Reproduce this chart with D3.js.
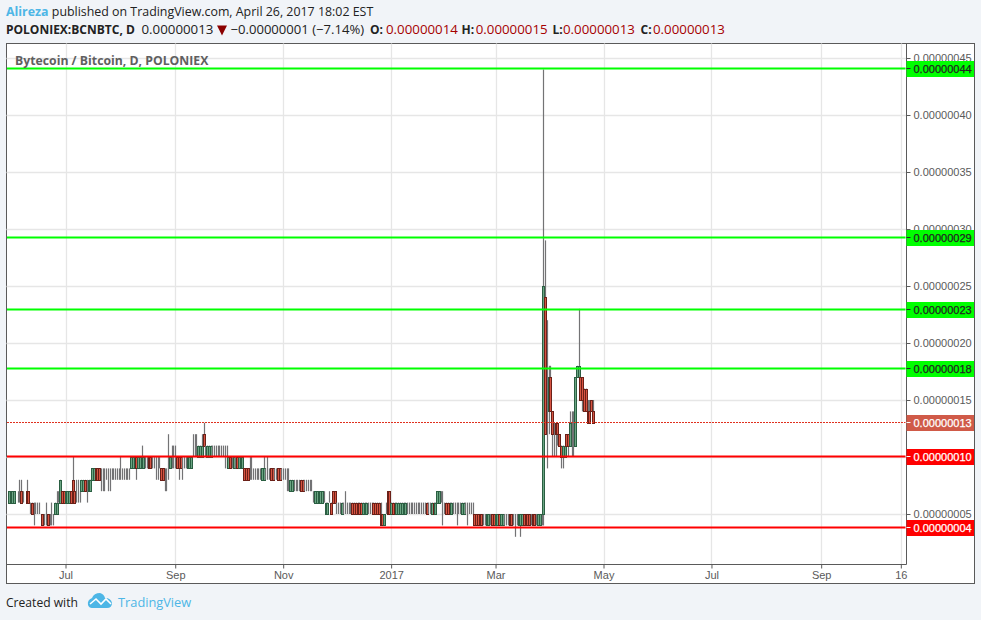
<!DOCTYPE html>
<html>
<head>
<meta charset="utf-8">
<title>BCNBTC</title>
<script src="https://cdn.jsdelivr.net/npm/d3@7"></script>
<style>
  html, body { margin: 0; padding: 0; background: #f1f4f8; }
  svg { display: block; }
  text { font-family: "Open Sans", sans-serif; }
  .scale text { font-family: "Liberation Sans", Arial, sans-serif; font-size: 11px; }
</style>
</head>
<body>
<svg id="chart" width="981" height="620"></svg>
<script>
// prices are in satoshi (1e-8 BTC), one entry per day from 29 May 2016
const firstDay = new Date(Date.UTC(2016, 4, 29));

const opens = [
  6,6,6,6,6,6,6,6,7,6,6,7,7,6,6,5,5,5,5,5,
  5,4,5,5,4,5,5,5,5,6,6,7,7,6,6,6,7,8,7,7,
  7,7,7,7,8,7,7,7,8,8,9,9,9,8,8,8,8,8,8,8,
  8,8,8,8,8,8,8,8,8,8,9,9,9,10,9,9,9,9,9,9,
  10,10,9,9,9,9,9,9,9,8,8,9,9,9,9,9,10,10,10,9,
  9,9,9,9,9,10,10,10,10,10,10,12,11,10,10,10,10,10,10,10,
  10,10,10,10,10,9,10,9,9,9,10,9,9,9,9,9,9,8,8,8,
  8,8,8,8,8,8,8,8,8,9,9,8,8,9,9,8,8,8,8,8,
  7,7,7,7,7,7,8,8,7,8,8,8,8,7,6,6,6,6,6,6,
  5,5,6,6,7,7,6,6,5,5,5,5,5,5,5,6,6,6,6,6,
  6,5,5,5,5,5,5,6,6,6,6,5,5,4,5,7,7,5,6,6,
  5,5,5,5,5,5,5,5,5,5,5,5,5,5,5,5,5,6,5,5,
  5,6,5,6,6,6,6,5,6,6,6,5,5,5,6,5,5,5,5,5,
  4,5,5,5,5,5,5,5,5,4,4,4,4,4,5,5,4,4,5,4,
  4,4,4,4,5,5,4,4,4,4,4,4,5,5,5,5,4,5,5,4,
  4,4,5,5,24,13,14,17,14,12,13,13,12,11,10,10,12,12,11,12,12,11,17,17,17,17,16,16,14,14,15,14
];
const highs = [
  6,7,7,7,7,6,7,8,8,7,6,8,7,6,6,6,6,6,6,5,
  5,5,6,5,5,6,5,6,7,7,8,7,7,7,7,7,7,10,7,8,
  8,7,8,8,8,8,8,8,9,9,9,9,9,9,9,9,9,9,9,9,
  9,9,9,9,10,9,9,9,9,9,10,10,10,10,10,10,11,10,10,10,
  10,10,10,10,10,10,10,9,9,9,9,12,10,11,11,11,10,10,10,10,
  10,10,10,10,10,12,12,12,11,11,12,13,11,11,11,11,11,11,11,11,
  11,11,11,11,11,10,10,10,10,10,10,10,10,10,9,9,9,10,10,9,
  9,9,9,9,9,10,9,10,9,9,9,9,9,9,9,9,9,9,9,9,
  8,8,8,8,8,8,8,8,8,8,8,8,8,7,7,7,7,7,7,7,
  6,6,7,6,7,7,6,6,6,6,6,7,6,6,6,6,6,6,6,6,
  6,6,6,6,6,6,6,6,6,6,6,6,5,5,6,7,7,6,6,6,
  6,6,6,6,6,6,6,6,6,6,6,6,6,6,6,6,6,6,6,6,
  6,6,6,7,7,7,7,6,6,6,6,6,6,6,6,6,6,6,6,6,
  6,6,6,6,5,5,5,5,5,5,5,5,5,5,5,5,5,5,5,5,
  5,5,5,5,5,5,5,5,5,5,5,5,5,5,5,5,5,5,5,5,
  5,5,5,44,29,22,18,18,14,13,13,13,12,11,11,11,12,12,14,14,14,17,18,23,17,17,16,16,15,15,15,15
];
const lows = [
  6,6,6,6,6,6,6,6,6,6,6,6,6,5,5,4,5,5,5,5,
  4,4,4,4,4,4,4,5,5,6,6,6,6,6,6,6,6,6,6,6,
  6,6,7,7,7,6,7,7,8,8,8,8,8,7,7,7,8,7,7,8,
  8,8,8,8,8,8,8,8,8,8,9,9,9,8,9,9,9,9,9,9,
  9,9,9,9,8,8,9,8,8,7,7,8,9,9,9,9,9,8,9,8,
  9,9,9,9,9,10,10,10,10,10,10,11,10,10,10,10,10,10,10,10,
  10,10,10,9,9,9,9,9,9,9,9,9,9,9,8,8,8,8,8,8,
  8,8,8,8,8,8,8,8,8,8,8,8,8,8,8,8,8,8,7,7,
  7,7,7,7,7,7,7,7,7,7,7,7,7,6,6,6,6,6,6,6,
  5,5,6,5,6,6,5,5,5,5,5,5,5,5,5,5,5,5,5,5,
  5,5,5,5,5,5,5,5,5,5,5,4,4,4,5,5,5,5,5,5,
  5,5,5,5,5,5,5,5,5,5,5,5,5,5,5,5,5,5,5,5,
  5,5,5,6,6,6,4,5,5,5,5,5,5,5,4,5,5,5,5,5,
  4,5,5,5,4,4,4,4,4,4,4,4,4,4,4,4,4,4,4,4,
  4,4,4,4,4,4,4,3,4,4,3,4,4,4,4,4,4,4,4,4,
  4,4,4,4,12,9,12,14,10,10,10,11,11,9,9,10,11,10,11,10,10,11,17,17,15,14,14,14,13,13,14,13
];
const closes = [
  6,7,7,7,7,6,6,6,6,6,6,6,6,6,5,5,5,5,5,5,
  4,4,5,4,4,5,5,6,6,6,8,6,6,7,7,7,6,6,6,7,
  7,7,8,8,7,7,8,8,9,9,8,8,8,8,8,8,8,8,8,8,
  8,8,8,8,8,8,8,8,8,8,10,10,10,9,10,10,10,10,9,9,
  9,9,9,9,9,9,9,8,8,8,8,9,10,9,9,9,9,9,9,9,
  9,9,10,10,10,10,10,10,11,11,11,11,11,11,11,11,10,10,10,10,
  10,10,10,10,10,10,9,9,10,9,9,10,10,10,8,8,8,8,8,8,
  8,8,8,8,9,9,8,8,8,8,8,8,8,8,8,8,8,8,8,8,
  8,8,7,7,7,7,7,7,7,8,8,8,8,7,7,7,7,7,7,6,
  6,6,6,5,6,6,6,6,5,6,5,5,5,5,5,5,5,5,5,5,
  5,6,6,6,5,5,5,5,5,5,5,4,4,5,5,5,5,6,5,5,
  6,6,6,6,6,6,5,5,5,5,5,5,5,5,5,5,5,5,5,5,
  6,5,6,7,7,6,6,5,5,5,5,6,5,5,6,5,5,6,6,5,
  4,5,5,5,4,4,4,4,4,4,4,5,5,4,4,4,5,5,4,5,
  5,4,4,4,4,4,4,4,4,5,5,5,4,4,4,4,4,4,4,4,
  5,5,5,25,12,13,17,14,12,12,12,12,11,10,11,11,11,11,13,12,12,17,18,18,15,15,14,14,13,13,14,13
];

const supportLevels = [10.06, 3.83];
const resistLevels = [44.08, 29.3, 22.98, 17.8];
const lastPrice = 13.05;
const priceTicks = [5, 10, 15, 20, 25, 30, 35, 40, 45];
const timeTicks = [
  [new Date(Date.UTC(2016, 6, 1)), "Jul"], [new Date(Date.UTC(2016, 8, 1)), "Sep"],
  [new Date(Date.UTC(2016, 10, 1)), "Nov"], [new Date(Date.UTC(2017, 0, 1)), "2017"],
  [new Date(Date.UTC(2017, 2, 1)), "Mar"], [new Date(Date.UTC(2017, 4, 1)), "May"],
  [new Date(Date.UTC(2017, 6, 1)), "Jul"], [new Date(Date.UTC(2017, 8, 1)), "Sep"],
  [new Date(Date.UTC(2017, 9, 16)), "16"]
];

const plotLeft = 6.5, plotRight = 906.5, plotTop = 43.5, plotBottom = 564.5, outerRight = 974.5, outerBottom = 583.5;
const upFill = "#6ba583", upLine = "#2a5f42", downFill = "#d75442", downLine = "#6b2018", wickColor = "#737375";

const x = d3.scaleUtc()
  .domain([timeTicks[0][0], timeTicks[5][0]])
  .range([65.5, 603.5]);
const y = d3.scaleLinear().domain([5, 45]).range([514, 58]);
const priceText = v => (Math.round(v) * 1e-8).toFixed(8);
const crisp = v => Math.round(v) + 0.5;

const candles = opens.map((o, i) => ({
  day: d3.utcDay.offset(firstDay, i), o: o, h: highs[i], l: lows[i], c: closes[i]
}));

const svg = d3.select("#chart");

svg.append("rect")
  .attr("x", plotLeft).attr("y", plotTop)
  .attr("width", outerRight - plotLeft).attr("height", outerBottom - plotTop)
  .attr("fill", "#fff").attr("stroke", "#5a5a5a");

// grid
const grid = svg.append("g").attr("stroke", "#e6e6e6").attr("stroke-width", 1.3);
grid.selectAll(".gx").data(timeTicks).join("line")
  .attr("x1", d => crisp(x(d[0]))).attr("x2", d => crisp(x(d[0])))
  .attr("y1", plotTop).attr("y2", plotBottom);
grid.selectAll(".gy").data(priceTicks).join("line")
  .attr("y1", d => crisp(y(d))).attr("y2", d => crisp(y(d)))
  .attr("x1", plotLeft).attr("x2", plotRight);

// candles
const candle = svg.append("g").selectAll("g").data(candles).join("g");
candle.append("line")
  .attr("x1", d => crisp(x(d.day))).attr("x2", d => crisp(x(d.day)))
  .attr("y1", d => y(d.h)).attr("y2", d => y(d.l))
  .attr("stroke", wickColor).attr("stroke-width", 1.2);
candle.append("rect")
  .attr("x", d => crisp(x(d.day)) - 1)
  .attr("width", 2)
  .attr("y", d => crisp(y(Math.max(d.o, d.c))))
  .attr("height", d => Math.abs(crisp(y(d.o)) - crisp(y(d.c))))
  .attr("fill", d => d.c >= d.o ? upFill : downFill)
  .attr("stroke", d => d.c >= d.o ? upLine : downLine);

// drawn levels
const levels = svg.append("g").attr("stroke-width", 2);
levels.selectAll(".res").data(resistLevels).join("line")
  .attr("x1", plotLeft + 0.5).attr("x2", plotRight - 1)
  .attr("y1", d => crisp(y(d))).attr("y2", d => crisp(y(d)))
  .attr("stroke", "#00ff00");
levels.selectAll(".sup").data(supportLevels).join("line")
  .attr("x1", plotLeft + 0.5).attr("x2", plotRight - 1)
  .attr("y1", d => crisp(y(d))).attr("y2", d => crisp(y(d)))
  .attr("stroke", "#ff0000");
svg.append("line")
  .attr("x1", plotLeft + 0.5).attr("x2", plotRight - 1)
  .attr("y1", crisp(y(lastPrice))).attr("y2", crisp(y(lastPrice)))
  .attr("stroke", "#e0301e").attr("stroke-dasharray", "2,1");

// axes frame
svg.append("line").attr("x1", plotRight).attr("x2", plotRight).attr("y1", plotTop).attr("y2", plotBottom).attr("stroke", "#5a5a5a");
svg.append("line").attr("x1", plotLeft).attr("x2", plotRight).attr("y1", plotBottom).attr("y2", plotBottom).attr("stroke", "#5a5a5a");

const yAxis = svg.append("g").attr("class", "scale")
  .attr("transform", "translate(" + plotRight + ",0)")
  .call(d3.axisRight(y).tickValues(priceTicks).tickSize(4).tickPadding(3).tickFormat(priceText));
yAxis.select(".domain").remove();
yAxis.selectAll("line").attr("stroke", "#5a5a5a");
yAxis.selectAll("text").attr("fill", "#5a5a5a");

const xAxis = svg.append("g").attr("class", "scale")
  .attr("transform", "translate(0," + plotBottom + ")")
  .call(d3.axisBottom(x).tickValues(timeTicks.map(d => d[0])).tickSize(4).tickPadding(3)
    .tickFormat((d, i) => timeTicks[i][1]));
xAxis.select(".domain").remove();
xAxis.selectAll("line").attr("stroke", "#5a5a5a");
xAxis.selectAll("text").attr("fill", "#5a5a5a");

// price tags
function addTag(v, fill, ink) {
  const g = svg.append("g").attr("class", "scale");
  g.append("rect")
    .attr("x", plotRight).attr("y", Math.round(y(v)) - 7)
    .attr("width", outerRight - plotRight - 0.5).attr("height", 16)
    .attr("fill", fill);
  g.append("line")
    .attr("x1", plotRight).attr("x2", plotRight + 4)
    .attr("y1", crisp(y(v))).attr("y2", crisp(y(v)))
    .attr("stroke", ink);
  g.append("text")
    .attr("x", plotRight + 7).attr("y", Math.round(y(v)) + 5)
    .attr("fill", ink)
    .attr("stroke", ink).attr("stroke-width", 0.25)
    .text(priceText(v));
}
resistLevels.forEach(v => addTag(v, "#00ff00", "#222"));
addTag(lastPrice, "#d05a48", "#fff");
supportLevels.forEach(v => addTag(v, "#ff0000", "#fff"));

// header
svg.append("text").attr("x", 15).attr("y", 65)
  .attr("font-size", 12.25).attr("font-weight", 700).attr("fill", "#5f5f5f")
  .text("Bytecoin / Bitcoin, D, POLONIEX");

const line1 = svg.append("text").attr("x", 6).attr("y", 16).attr("font-size", 12.4).attr("fill", "#222");
line1.append("tspan").attr("font-weight", 700).attr("fill", "#4db6e6").text("Alireza");
line1.append("tspan").text(" published on TradingView.com, April 26, 2017 18:02 EST");

svg.append("text").attr("x", 6).attr("y", 34).attr("font-size", 12).attr("font-weight", 700).attr("fill", "#222")
  .text("POLONIEX:BCNBTC, D");
svg.append("text").attr("x", 141.5).attr("y", 34).attr("font-size", 13.3).attr("fill", "#222")
  .text("0.00000013");
svg.append("path").attr("d", "M217 25.5h10l-5 10z").attr("fill", "#8b0000");
svg.append("text").attr("x", 230.5).attr("y", 34).attr("font-size", 13.1).attr("fill", "#222")
  .text("\u22120.00000001 (\u22127.14%)");

const ohlcNames = ["O:", "H:", "L:", "C:"];
const ohlcValues = ["0.00000014", "0.00000015", "0.00000013", "0.00000013"];
ohlcNames.forEach((name, i) => {
  svg.append("text").attr("x", [370, 461.5, 552.5, 640.5][i]).attr("y", 34)
    .attr("font-size", 12).attr("font-weight", 700).attr("fill", "#222").text(name);
  svg.append("text").attr("x", [386, 475.7, 563, 653][i]).attr("y", 34)
    .attr("font-size", 13.3).attr("fill", "#a60000").text(ohlcValues[i]);
});

// footer
svg.append("text").attr("x", 6).attr("y", 607).attr("font-size", 12.1).attr("fill", "#222").text("Created with");
svg.append("path")
  .attr("d", "M88 605q-1-5 4-7q2-5 8-5q4 1 5 5q6 0 7 5q0 5-5 5h-15q-3 0-4-3z")
  .attr("fill", "#4db6e6");
svg.append("path")
  .attr("d", "M90 604l6-5l5 5l5-5l5 5")
  .attr("fill", "none").attr("stroke", "#fff").attr("stroke-width", 1.6);
svg.append("text").attr("x", 118).attr("y", 607).attr("font-size", 12.8).attr("fill", "#4db6e6").text("TradingView");
</script>
</body>
</html>
